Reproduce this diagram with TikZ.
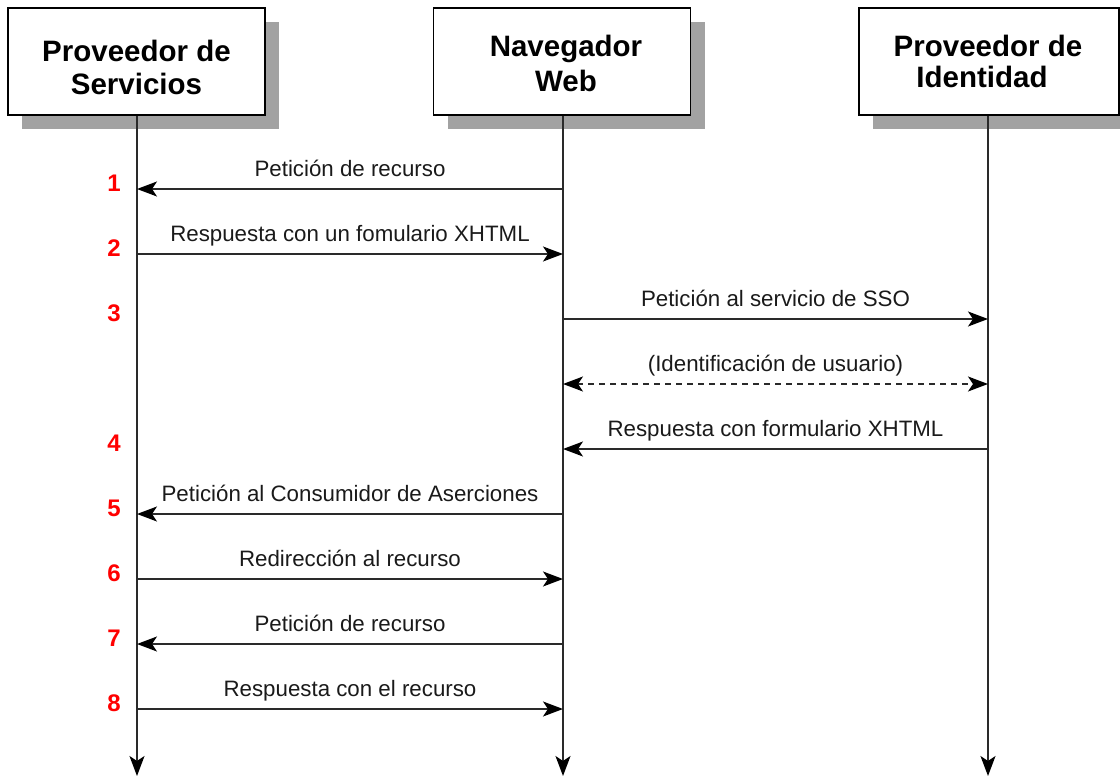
\documentclass[tikz,border=0pt]{standalone}
\usepackage{fontspec}
\setmainfont{Liberation Sans}
\usetikzlibrary{arrows.meta,shadows}
\definecolor{linegray}{HTML}{2A2A2A}
\definecolor{txt}{HTML}{1A1A1A}
\definecolor{shade}{HTML}{A2A2A2}
\tikzset{
  actor/.style={draw=black, line width=1.4pt, fill=white, minimum width=257pt, minimum height=107pt,
    inner sep=0pt,
    drop shadow={shadow xshift=14pt, shadow yshift=-14pt, fill=shade, opacity=1}},
  ttl/.style={anchor=base, inner sep=0pt, font=\fontsize{29.5}{33}\selectfont\bfseries, text=black},
  life/.style={draw=linegray, line width=1.8pt, -{Stealth[length=20pt,width=15pt,inset=5pt,fill=black,color=black]}},
  msg/.style={draw=linegray, line width=1.5pt, -{Stealth[length=20pt,width=15pt,inset=5pt,fill=black,color=black]}},
  dmsg/.style={draw=linegray, line width=1.5pt, {Stealth[length=20pt,width=15pt,inset=5pt,fill=black,color=black]}-{Stealth[length=20pt,width=15pt,inset=5pt,fill=black,color=black]}, dash pattern=on 6pt off 5pt},
  lbl/.style={anchor=base, yshift=12.5pt, font=\fontsize{22.3}{24}\selectfont, text=txt, inner sep=0pt},
  num/.style={font=\fontsize{24}{26}\selectfont\bfseries, text=red, inner sep=0pt}
}
\begin{document}
\begin{tikzpicture}[x=1pt,y=-1pt]
\useasboundingbox (0,0) rectangle (1120,776);
\node[actor] (sp) at (136.5,61.5) {};
\node[actor] (nw) at (562,61.5) {};
\node[actor, minimum width=260pt] (ip) at (989,61.5) {};
\node[ttl] (sp1) at (136.5,62) {Proveedor de};
\node[ttl] (sp2) at (136.5,94.5) {Servicios};
\node[ttl] (nw1) at (566,57) {Navegador};
\node[ttl] (nw2) at (566,92) {Web};
\node[ttl] (ip1) at (988,57) {Proveedor de};
\node[ttl] (ip2) at (982,87.5) {Identidad};
\coordinate (spend) at (137,776);
\coordinate (nwend) at (563,776);
\coordinate (ipend) at (988,776);
\draw[life] (sp.south -| spend) -- (spend);
\draw[life] (nw.south -| nwend) -- (nwend);
\draw[life] (ip.south -| ipend) -- (ipend);
% message endpoints
\foreach \i/\y in {1/189,2/254,3/319,d/384,4/449,5/514,6/579,7/644,8/709}{
  \coordinate (a\i) at (137,\y);
  \coordinate (b\i) at (563,\y);
  \coordinate (c\i) at (988,\y);
}
\draw[msg] (b1) -- (a1) node[lbl, midway] {Petición de recurso};
\draw[msg] (a2) -- (b2) node[lbl, midway] {Respuesta con un fomulario XHTML};
\draw[msg] (b3) -- (c3) node[lbl, midway] {Petición al servicio de SSO};
\draw[dmsg] (bd) -- (cd) node[lbl, midway] {(Identificación de usuario)};
\draw[msg] (c4) -- (b4) node[lbl, midway] {Respuesta con formulario XHTML};
\draw[msg] (b5) -- (a5) node[lbl, midway] {Petición al Consumidor de Aserciones};
\draw[msg] (a6) -- (b6) node[lbl, midway] {Redirección al recurso};
\draw[msg] (b7) -- (a7) node[lbl, midway] {Petición de recurso};
\draw[msg] (a8) -- (b8) node[lbl, midway] {Respuesta con el recurso};
% step numbers
\node[num] (n1) at (114,183) {1};
\node[num] (n2) at (114,248) {2};
\node[num] (n3) at (114,313) {3};
\node[num] (n4) at (114,443) {4};
\node[num] (n5) at (114,508) {5};
\node[num] (n6) at (114,573) {6};
\node[num] (n7) at (114,638) {7};
\node[num] (n8) at (114,703) {8};
\end{tikzpicture}
\end{document}
